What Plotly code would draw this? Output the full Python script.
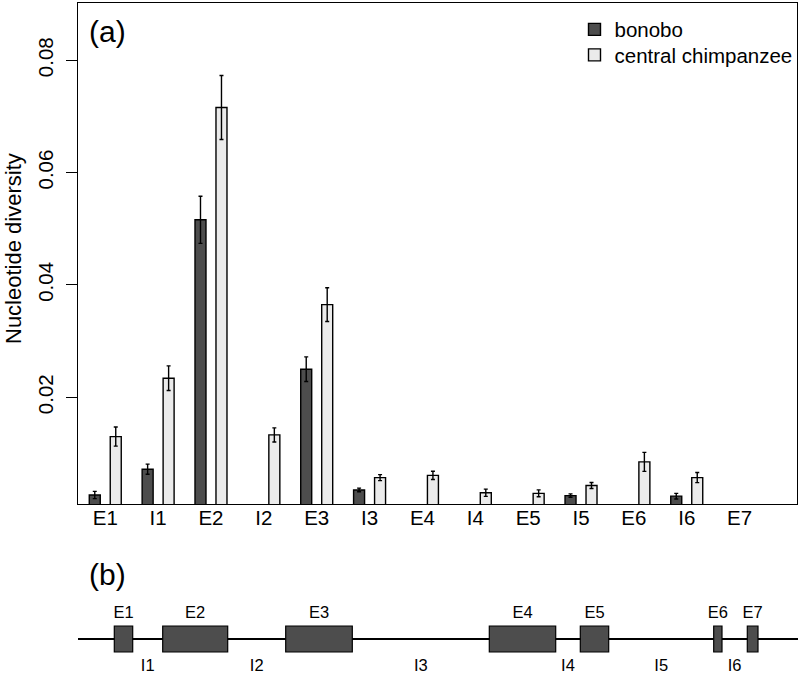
import plotly.graph_objects as go

# ---------------- data: panel (a) ----------------
regions = ["E1", "I1", "E2", "I2", "E3", "I3", "E4", "I4", "E5", "I5", "E6", "I6", "E7"]
bonobo = [0.0026, 0.0072, 0.0516, None, 0.0250, 0.0035, None, None, None, 0.0025, None, 0.0024, None]
bonobo_err = [0.00065, 0.0009, 0.0042, None, 0.0022, 0.00033, None, None, None, 0.0003, None, 0.0005, None]
chimp = [0.0130, 0.0234, 0.0716, 0.0133, 0.0365, 0.0057, 0.0061, 0.0030, 0.0029, 0.0043, 0.0085, 0.0057, None]
chimp_err = [0.0017, 0.0022, 0.0057, 0.00125, 0.0030, 0.00053, 0.00074, 0.00065, 0.00062, 0.00053, 0.0017, 0.0009, None]
y_ticks = [0.02, 0.04, 0.06, 0.08]
y_tick_labels = ["0.02", "0.04", "0.06", "0.08"]

# ---------------- data: panel (b) gene structure (diagram units) ----------------
exon_names = ["E1", "E2", "E3", "E4", "E5", "E6", "E7"]
exon_start = [36.3, 84.7, 207.7, 411.3, 502.3, 635.7, 669.3]
exon_end = [54.7, 149.7, 274.3, 477.7, 530.7, 644.0, 680.0]
intron_names = ["I1", "I2", "I3", "I4", "I5", "I6"]
gene_start = 0
gene_end = 720

FONT = "Liberation Sans, Arial, Helvetica, sans-serif"
DARK = "#4d4d4d"
LIGHT = "#ebebeb"
W, H = 799, 678


def px_x(p):
    return p / W


def px_y(p):
    return 1 - p / H


fig = go.Figure()

fig.add_trace(go.Bar(
    x=regions, y=bonobo, name="bonobo", legend="legend",
    marker=dict(color=DARK, line=dict(color="black", width=1.4)),
    error_y=dict(type="data", array=bonobo_err, color="black", thickness=1.4, width=2),
    xaxis="x", yaxis="y",
))
fig.add_trace(go.Bar(
    x=regions, y=chimp, name="central chimpanzee", legend="legend2",
    marker=dict(color=LIGHT, line=dict(color="black", width=1.4)),
    error_y=dict(type="data", array=chimp_err, color="black", thickness=1.4, width=2),
    xaxis="x", yaxis="y",
))

# panel (b): backbone line on base subplot
fig.add_trace(go.Scatter(
    x=[gene_start, gene_end], y=[0, 0], mode="lines",
    line=dict(color="black", width=2.2), showlegend=False,
    xaxis="x2", yaxis="y2", hoverinfo="skip",
))
# exons as horizontal bars on overlaying axis (drawn above the line)
exon_len = [e - s for s, e in zip(exon_start, exon_end)]
fig.add_trace(go.Bar(
    y=[0] * len(exon_names), x=exon_len, base=exon_start, orientation="h",
    width=26, marker=dict(color=DARK, line=dict(color="black", width=1.2)),
    showlegend=False, xaxis="x2", yaxis="y3", hoverinfo="skip",
))
exon_mid = [(s + e) / 2 for s, e in zip(exon_start, exon_end)]
intron_mid = [(exon_end[i] + exon_start[i + 1]) / 2 for i in range(len(intron_names))]
fig.add_trace(go.Scatter(
    x=exon_mid, y=[25] * len(exon_mid), mode="text", text=exon_names,
    textfont=dict(family=FONT, size=16.5, color="black"), showlegend=False,
    xaxis="x2", yaxis="y3", hoverinfo="skip",
))
fig.add_trace(go.Scatter(
    x=intron_mid, y=[-28] * len(intron_mid), mode="text", text=intron_names,
    textfont=dict(family=FONT, size=16.5, color="black"), showlegend=False,
    xaxis="x2", yaxis="y3", hoverinfo="skip",
))

legend_common = dict(
    xanchor="left", yanchor="top",
    bgcolor="rgba(0,0,0,0)", borderwidth=0,
    font=dict(family=FONT, size=20.5, color="black"),
)

fig.update_layout(
    width=W, height=H,
    margin=dict(l=0, r=0, t=0, b=0),
    paper_bgcolor="white", plot_bgcolor="white",
    font=dict(family=FONT, size=20.5, color="black"),
    barmode="group", bargap=0.206, bargroupgap=0.476,
    showlegend=True,
    legend=dict(x=px_x(574.5), y=px_y(9.5), **legend_common),
    legend2=dict(x=px_x(574.5), y=px_y(35), **legend_common),
    xaxis=dict(
        domain=[px_x(78.3), px_x(796.7)], anchor="y",
        range=[-0.51, 13.08], showgrid=False, zeroline=False,
        showline=True, mirror=True, linecolor="black", linewidth=1.4,
        ticks="", tickfont=dict(size=20.5), ticklabelstandoff=-5,
    ),
    yaxis=dict(
        domain=[px_y(504), px_y(3)], anchor="x",
        range=[0.001, 0.0902], showgrid=False, zeroline=False,
        showline=True, mirror=True, linecolor="black", linewidth=1.4,
        ticks="outside", ticklen=11, tickwidth=1.4, tickcolor="black",
        tickvals=y_ticks, ticktext=y_tick_labels, tickangle=-90,
        tickfont=dict(size=20.5), ticklabelstandoff=5,
    ),
    xaxis2=dict(
        domain=[px_x(78), px_x(798)], anchor="y2",
        range=[gene_start, gene_end], visible=False,
    ),
    yaxis2=dict(
        domain=[0, px_y(598)], anchor="x2",
        range=[-39, 41], visible=False,
    ),
    yaxis3=dict(
        domain=[0, px_y(598)], anchor="x2", overlaying="y2",
        range=[-39, 41], visible=False,
    ),
    annotations=[
        dict(text="Nucleotide diversity", x=px_x(13), y=px_y(249),
             xref="paper", yref="paper", showarrow=False, textangle=-90,
             font=dict(size=22), xanchor="center", yanchor="middle"),
        dict(text="(a)", x=px_x(107), y=px_y(31), xref="paper", yref="paper",
             showarrow=False, font=dict(size=30), xanchor="center", yanchor="middle"),
        dict(text="(b)", x=px_x(107), y=px_y(574), xref="paper", yref="paper",
             showarrow=False, font=dict(size=30), xanchor="center", yanchor="middle"),
    ],
)

fig.write_html("out.html", config={"displayModeBar": False},
               post_script="document.body.style.margin='0';")
